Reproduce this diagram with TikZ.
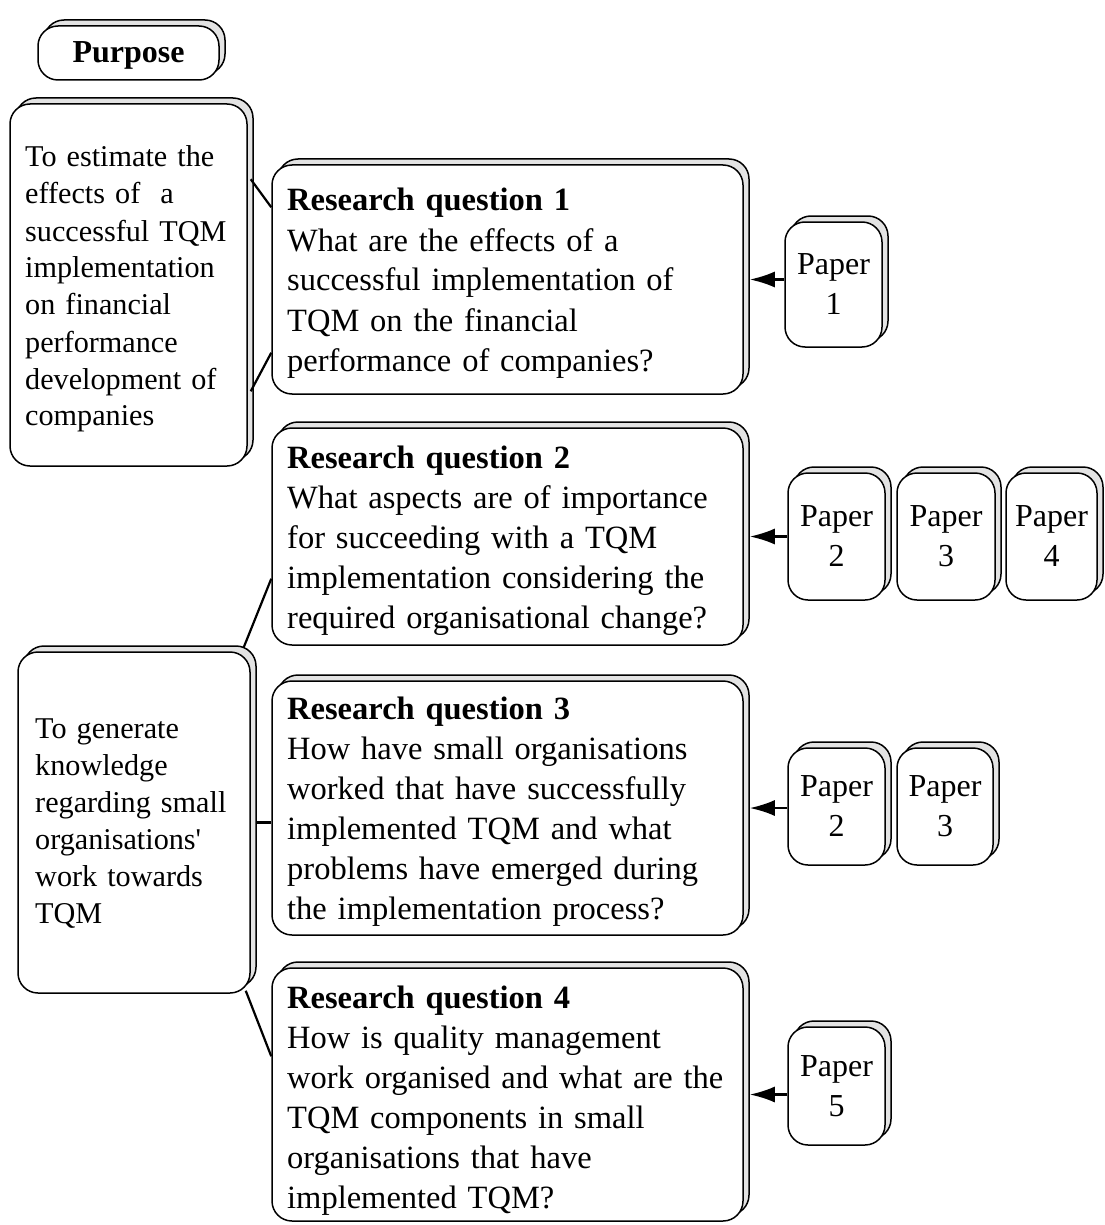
\documentclass[tikz,border=0pt]{standalone}
\usepackage{fontspec}
\setmainfont{Liberation Serif}
\usetikzlibrary{shadows,arrows.meta,calc}
\begin{document}
\begin{tikzpicture}[x=1pt,y=-1pt,
  stackbox/.style={draw, line width=1.5pt, rounded corners=20pt, fill=white,
    copy shadow={shadow xshift=6pt, shadow yshift=6pt, fill=black!11, draw=black, line width=1.5pt}},
  rqtext/.style={anchor=base west, inner sep=0pt, text width=455pt, align=left,
    font=\fontsize{32.5}{40}\selectfont},
  purtext/.style={anchor=base west, inner sep=0pt, text width=225pt, align=left,
    font=\fontsize{30.2}{37}\selectfont},
  paper/.style={stackbox, align=center, inner sep=0pt, font=\fontsize{32}{40}\selectfont},
  link/.style={line width=2.2pt},
  feed/.style={line width=2.2pt, -{Latex[length=25pt,width=16pt]}}
]
\useasboundingbox (0,0) rectangle (1104,1225);

% headline
\node[stackbox, minimum width=181pt, minimum height=54pt, text height=27pt, text depth=7pt,
  font=\bfseries\fontsize{32}{38}\selectfont] (title) at (128.5,53) {Purpose};

% purpose boxes
\node[stackbox, minimum width=237pt, minimum height=362pt] (pa) at (128.5,285) {};
\node[stackbox, minimum width=232pt, minimum height=341pt] (pb) at (134,822.5) {};

% research question boxes
\node[stackbox, minimum width=471pt, minimum height=229pt] (rq1) at (507.5,279.5) {};
\node[stackbox, minimum width=471pt, minimum height=217pt] (rq2) at (507.5,536.5) {};
\node[stackbox, minimum width=471pt, minimum height=254pt] (rq3) at (507.5,808) {};
\node[stackbox, minimum width=471pt, minimum height=253pt] (rq4) at (507.5,1094.5) {};

% links from purposes to questions
\draw[link] ($(pa.north east)+(3pt,-76pt)$) -- ($(rq1.north west)+(0pt,-43pt)$);
\draw[link] ($(pa.north east)+(3pt,-288pt)$) -- ($(rq1.south west)+(0pt,42pt)$);
\draw[link] ($(pb.north east)+(-7pt,4pt)$) -- ($(rq2.south west)+(0pt,67pt)$);
\draw[link] ($(pb.east)+(6pt,0pt)$) -- (pb.east -| rq3.west);
\draw[link] ($(pb.south east)+(-5pt,3pt)$) -- ($(rq4.north west)+(0pt,-89pt)$);

% texts
\node[purtext] (pat) at (25,167) {To estimate the\\effects of\ \ a\\successful TQM\\implementation\\on financial\\performance\\development of\\companies};
\node[purtext] (pbt) at (35,738) {To generate\\knowledge\\regarding small\\organisations\textquotesingle\\work towards\\TQM};

\node[rqtext] (rq1t) at (287,211) {\textbf{Research question 1}\\What are the effects of a\\successful implementation of\\TQM on the financial\\performance of companies?};
\node[rqtext] (rq2t) at (287,468) {\textbf{Research question 2}\\What aspects are of importance\\for succeeding with a TQM\\implementation considering the\\required organisational change?};
\node[rqtext] (rq3t) at (287,719) {\textbf{Research question 3}\\How have small organisations\\worked that have successfully\\implemented TQM and what\\problems have emerged during\\the implementation process?};
\node[rqtext] (rq4t) at (287,1008) {\textbf{Research question 4}\\How is quality management\\work organised and what are the\\TQM components in small\\organisations that have\\implemented TQM?};

% papers
\node[paper, minimum width=97pt, minimum height=125pt] (p1) at (833.5,284.5) {Paper\\1};
\node[paper, minimum width=97pt, minimum height=127pt] (p2a) at (836.5,536.5) {Paper\\2};
\node[paper, minimum width=98pt, minimum height=127pt] (p3a) at (946,536.5) {Paper\\3};
\node[paper, minimum width=91pt, minimum height=127pt] (p4) at (1051.5,536.5) {Paper\\4};
\node[paper, minimum width=97pt, minimum height=117pt] (p2b) at (836.5,806.5) {Paper\\2};
\node[paper, minimum width=96pt, minimum height=117pt] (p3b) at (945,806.5) {Paper\\3};
\node[paper, minimum width=97pt, minimum height=118pt] (p5) at (836.5,1086) {Paper\\5};

% papers feeding the questions
\draw[feed] (p1.west |- rq1.east) -- ($(rq1.east)+(6pt,0pt)$);
\draw[feed] (p2a.west |- rq2.east) -- ($(rq2.east)+(6pt,0pt)$);
\draw[feed] (p2b.west |- rq3.east) -- ($(rq3.east)+(6pt,0pt)$);
\draw[feed] (p5.west |- rq4.east) -- ($(rq4.east)+(6pt,0pt)$);
\end{tikzpicture}
\end{document}
